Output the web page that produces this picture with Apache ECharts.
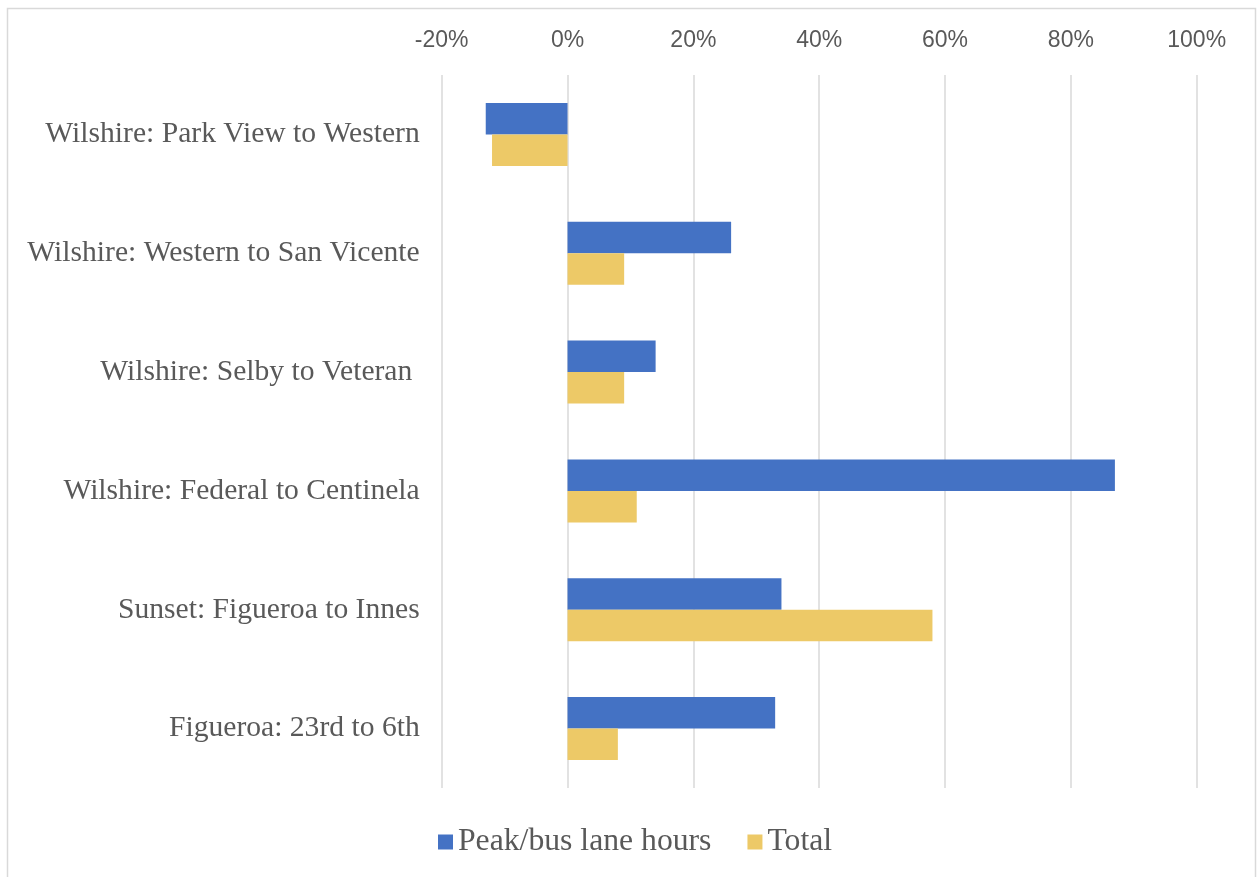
<!DOCTYPE html>
<html>
<head>
<meta charset="utf-8">
<script src="https://cdn.jsdelivr.net/npm/echarts@6/dist/echarts.min.js"></script>
<style>
html,body{margin:0;padding:0;background:#fff;}
#c{width:1259px;height:877px;}
</style>
</head>
<body>
<div id="c"></div>
<script>
const categories = [
  "Wilshire: Park View to Western",
  "Wilshire: Western to San Vicente",
  "Wilshire: Selby to Veteran ",
  "Wilshire: Federal to Centinela",
  "Sunset: Figueroa to Innes",
  "Figueroa: 23rd to 6th"
];
const peakBusLaneHours = [-13, 26, 14, 87, 34, 33];
const total = [-12, 9, 9, 11, 58, 8];
const seriesNames = ["Peak/bus lane hours", "Total"];

const chart = echarts.init(document.getElementById('c'), null, {renderer: 'canvas'});
chart.setOption({
  animation: false,
  backgroundColor: '#ffffff',
  graphic: [{
    type: 'rect',
    shape: {x: 7.5, y: 8.5, width: 1248, height: 900},
    style: {fill: 'none', stroke: '#d9d9d9', lineWidth: 1.5},
    silent: true
  }],
  grid: {left: 441.7, right: 62.3, top: 75, height: 713, containLabel: false},
  legend: {
    top: 821,
    left: 433,
    itemWidth: 15,
    itemHeight: 15,
    itemGap: 36,
    icon: 'rect',
    textStyle: {fontFamily: 'Liberation Serif', fontSize: 31.7, color: '#595959'},
    data: seriesNames
  },
  xAxis: {
    type: 'value',
    position: 'top',
    min: -20, max: 100, interval: 20,
    axisLine: {show: false},
    axisTick: {show: false},
    splitLine: {lineStyle: {color: '#d9d9d9', width: 1.5}},
    axisLabel: {
      formatter: v => v + '%',
      fontFamily: 'Liberation Sans',
      fontSize: 23,
      color: '#595959',
      margin: 23
    }
  },
  yAxis: {
    type: 'category',
    inverse: true,
    data: categories,
    axisLine: {show: false},
    axisTick: {show: false},
    axisLabel: {
      fontFamily: 'Liberation Serif',
      fontSize: 29.6,
      color: '#595959',
      margin: 22
    }
  },
  series: [
    {
      name: seriesNames[0], type: 'bar', data: peakBusLaneHours,
      itemStyle: {color: '#4472c4'},
      barGap: '0%', barCategoryGap: '47%'
    },
    {
      name: seriesNames[1], type: 'bar', data: total,
      itemStyle: {color: '#edc967'},
      barGap: '0%', barCategoryGap: '47%'
    }
  ]
});
</script>
</body>
</html>
